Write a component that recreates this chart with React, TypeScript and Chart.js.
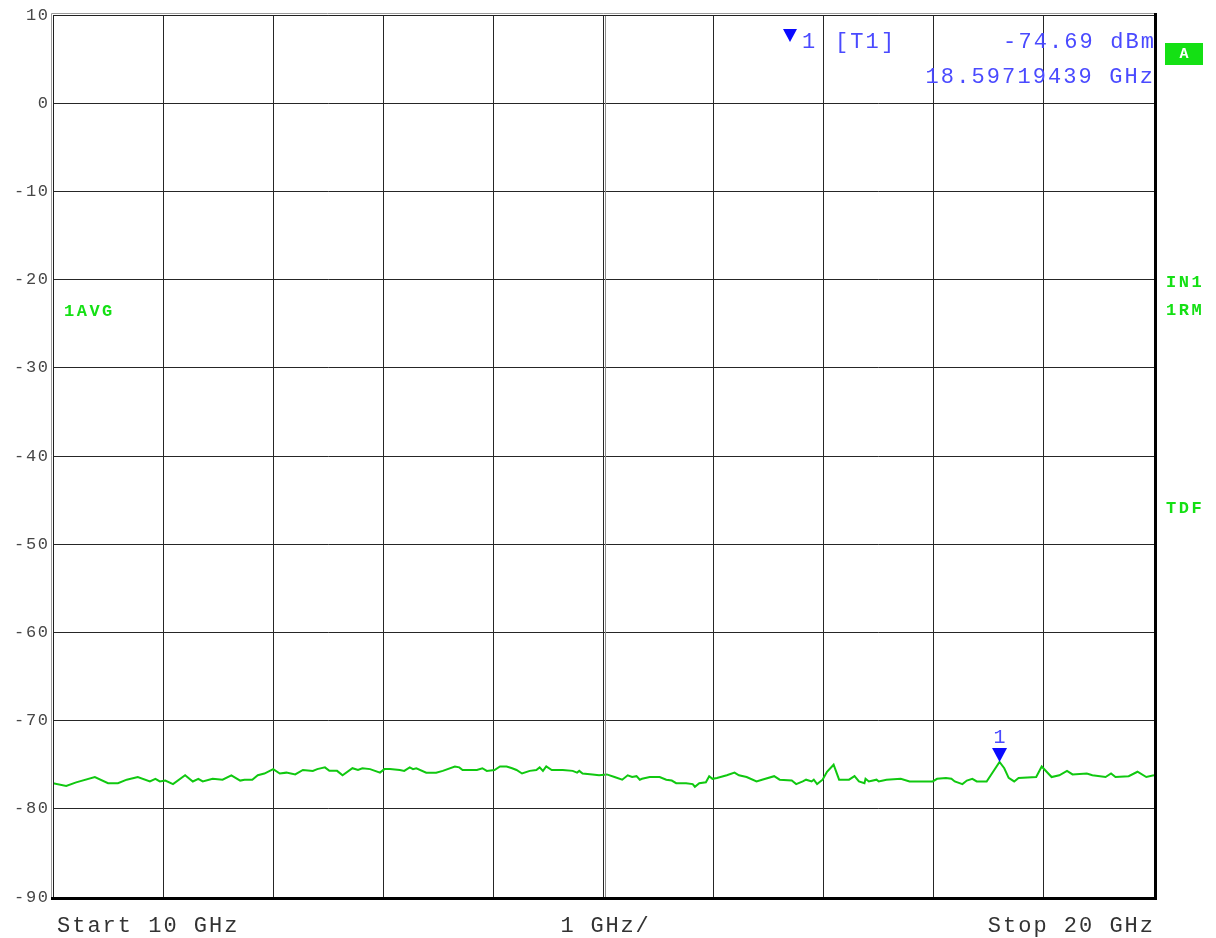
import React, { useEffect, useRef } from "react";
import { Chart, registerables } from "chart.js";

Chart.register(...registerables);

const freqGHz = [
  10.0, 10.12, 10.21, 10.38, 10.5, 10.59, 10.67, 10.77, 10.88, 10.93, 10.97, 11.02, 11.09, 11.2, 11.27, 11.32,
  11.36, 11.45, 11.54, 11.62, 11.7, 11.74, 11.81, 11.86, 11.92, 12.0, 12.06, 12.12, 12.2, 12.27, 12.36, 12.4,
  12.47, 12.51, 12.58, 12.63, 12.72, 12.77, 12.81, 12.88, 12.97, 13.01, 13.06, 13.15, 13.19, 13.24, 13.27, 13.3,
  13.39, 13.48, 13.54, 13.65, 13.69, 13.72, 13.85, 13.9, 13.94, 14.01, 14.06, 14.12, 14.17, 14.21, 14.26, 14.33,
  14.39, 14.42, 14.45, 14.48, 14.53, 14.63, 14.72, 14.76, 14.78, 14.81, 14.9, 14.96, 15.03, 15.1, 15.17, 15.22,
  15.26, 15.3, 15.33, 15.35, 15.42, 15.51, 15.57, 15.62, 15.66, 15.75, 15.81, 15.83, 15.87, 15.93, 15.96, 15.99,
  16.03, 16.12, 16.19, 16.23, 16.3, 16.39, 16.44, 16.55, 16.6, 16.71, 16.75, 16.81, 16.84, 16.89, 16.91, 16.94,
  16.99, 17.03, 17.09, 17.14, 17.23, 17.28, 17.32, 17.37, 17.38, 17.41, 17.48, 17.5, 17.57, 17.7, 17.78, 17.99,
  18.03, 18.11, 18.16, 18.19, 18.26, 18.3, 18.35, 18.39, 18.48, 18.597, 18.64, 18.68, 18.73, 18.77, 18.93, 18.98,
  19.07, 19.14, 19.21, 19.26, 19.39, 19.44, 19.56, 19.61, 19.65, 19.77, 19.85, 19.93, 20.0,
];

const levelDBm = [
  -77.1, -77.4, -77.0, -76.4, -77.1, -77.1, -76.7, -76.4, -76.9, -76.6, -76.9, -76.8, -77.2, -76.2, -76.9, -76.6,
  -76.9, -76.6, -76.7, -76.2, -76.8, -76.7, -76.7, -76.2, -76.0, -75.5, -76.0, -75.9, -76.1, -75.6, -75.7, -75.5,
  -75.3, -75.7, -75.7, -76.2, -75.4, -75.6, -75.4, -75.5, -75.9, -75.5, -75.5, -75.6, -75.7, -75.3, -75.5, -75.4,
  -75.9, -75.9, -75.7, -75.2, -75.3, -75.6, -75.6, -75.4, -75.7, -75.6, -75.2, -75.2, -75.4, -75.6, -76.0, -75.7,
  -75.6, -75.3, -75.7, -75.2, -75.6, -75.6, -75.7, -75.9, -75.7, -76.0, -76.1, -76.2, -76.1, -76.4, -76.7, -76.2,
  -76.4, -76.3, -76.7, -76.6, -76.4, -76.4, -76.7, -76.8, -77.1, -77.1, -77.2, -77.5, -77.1, -77.0, -76.3, -76.6,
  -76.5, -76.2, -75.9, -76.2, -76.4, -76.9, -76.7, -76.3, -76.7, -76.8, -77.2, -76.9, -76.7, -76.9, -76.7, -77.2,
  -76.7, -75.8, -75.0, -76.7, -76.7, -76.3, -76.9, -77.1, -76.6, -76.9, -76.7, -76.9, -76.7, -76.6, -76.9, -76.9,
  -76.6, -76.5, -76.6, -76.9, -77.2, -76.8, -76.6, -76.9, -76.9, -74.69, -75.4, -76.5, -76.9, -76.5, -76.4, -75.2,
  -76.4, -76.2, -75.7, -76.1, -76.0, -76.2, -76.4, -76.0, -76.4, -76.3, -75.8, -76.4, -76.2,
];

const yTicks = [10, 0, -10, -20, -30, -40, -50, -60, -70, -80, -90];
const startGHz = 10;
const stopGHz = 20;
const markerFreq = 18.59719439;
const markerLevel = -74.69;
const markerLabel = "1";
const markerTag = "[T1]";
const markerLevelText = "-74.69 dBm";
const markerFreqText = "18.59719439 GHz";
const startText = "Start 10 GHz";
const spanText = "1 GHz/";
const stopText = "Stop 20 GHz";
const leftTraceLabel = "1AVG";
const rightLabels = [
  { text: "IN1", y: 283 },
  { text: "1RM", y: 311 },
  { text: "TDF", y: 509 },
];

const MONO = '"Liberation Mono", "DejaVu Sans Mono", monospace';
const BLUE_TEXT = "#4a4aff";
const BLUE_MARK = "#0a0aff";
const GREEN_TEXT = "#14e014";

function spacedText(
  ctx: CanvasRenderingContext2D,
  text: string,
  x: number,
  y: number,
  align: "left" | "right" | "center",
  spacing: number
) {
  (ctx as any).letterSpacing = spacing + "px";
  const w = ctx.measureText(text).width - spacing;
  let sx = x;
  if (align === "right") sx = x - w;
  else if (align === "center") sx = x - w / 2;
  ctx.textAlign = "left";
  ctx.fillText(text, sx, y);
  (ctx as any).letterSpacing = "0px";
}

const overlayPlugin = {
  id: "analyzerOverlay",
  afterDatasetsDraw(chart: any) {
    const ctx: CanvasRenderingContext2D = chart.ctx;
    const { left, right, top, bottom } = chart.chartArea;
    const xs = chart.scales.x;
    const ys = chart.scales.y;
    ctx.save();

    // double centre line
    const cx = Math.round(xs.getPixelForValue(15)) + 1.5;
    ctx.strokeStyle = "#8a8a8a";
    ctx.lineWidth = 1;
    ctx.beginPath();
    ctx.moveTo(cx, top);
    ctx.lineTo(cx, bottom);
    ctx.stroke();

    // frame
    ctx.strokeStyle = "#9a9a9a";
    ctx.lineWidth = 1;
    ctx.beginPath();
    ctx.moveTo(left - 1.5, top - 1.5);
    ctx.lineTo(right + 1, top - 1.5);
    ctx.moveTo(left - 1.5, top - 1.5);
    ctx.lineTo(left - 1.5, bottom + 1);
    ctx.stroke();
    ctx.strokeStyle = "#202020";
    ctx.beginPath();
    ctx.moveTo(left + 0.5, top + 0.5);
    ctx.lineTo(right, top + 0.5);
    ctx.moveTo(left + 0.5, top + 0.5);
    ctx.lineTo(left + 0.5, bottom);
    ctx.stroke();
    ctx.fillStyle = "#000";
    ctx.fillRect(right, top - 2, 3, bottom - top + 5);
    ctx.fillRect(left - 2, bottom, right - left + 5, 3);

    // y labels
    ctx.fillStyle = "#474747";
    ctx.font = `17px ${MONO}`;
    ctx.textBaseline = "middle";
    yTicks.forEach((v) => {
      const py = ys.getPixelForValue(v);
      spacedText(ctx, String(v), left - 5, py, "right", 1.7);
    });

    // bottom texts
    ctx.fillStyle = "#333";
    ctx.font = `22px ${MONO}`;
    ctx.textBaseline = "alphabetic";
    spacedText(ctx, startText, xs.getPixelForValue(startGHz) + 4, 932, "left", 2.0);
    spacedText(ctx, spanText, xs.getPixelForValue((startGHz + stopGHz) / 2) + 1, 932, "center", 1.8);
    spacedText(ctx, stopText, xs.getPixelForValue(stopGHz) - 1, 932, "right", 2.0);

    // marker info at top
    const triX = 790;
    ctx.fillStyle = BLUE_MARK;
    ctx.beginPath();
    ctx.moveTo(triX - 7, 29);
    ctx.lineTo(triX + 7, 29);
    ctx.lineTo(triX, 42);
    ctx.closePath();
    ctx.fill();
    ctx.fillStyle = BLUE_TEXT;
    ctx.font = `22px ${MONO}`;
    spacedText(ctx, markerLabel, 802, 48, "left", 2.1);
    spacedText(ctx, markerTag, 835, 48, "left", 2.1);
    spacedText(ctx, markerLevelText, 1154, 48, "right", 2.1);
    spacedText(ctx, markerFreqText, 1153, 83, "right", 2.1);

    // marker on trace
    const mx = xs.getPixelForValue(markerFreq);
    const my = ys.getPixelForValue(markerLevel);
    ctx.fillStyle = BLUE_MARK;
    ctx.beginPath();
    ctx.moveTo(mx - 7.5, my - 14);
    ctx.lineTo(mx + 7.5, my - 14);
    ctx.lineTo(mx, my);
    ctx.closePath();
    ctx.fill();
    ctx.fillStyle = BLUE_TEXT;
    ctx.font = `20px ${MONO}`;
    spacedText(ctx, markerLabel, mx, my - 19, "center", 0);

    // A box
    ctx.fillStyle = GREEN_TEXT;
    ctx.fillRect(1165, 43, 38, 22);
    ctx.fillStyle = "#fff";
    ctx.font = `bold 15px ${MONO}`;
    ctx.textBaseline = "middle";
    spacedText(ctx, "A", 1184, 54, "center", 0);

    // green status labels
    ctx.fillStyle = GREEN_TEXT;
    ctx.font = `bold 17px ${MONO}`;
    spacedText(ctx, leftTraceLabel, 64, 312, "left", 2.5);
    rightLabels.forEach((l) => spacedText(ctx, l.text, 1166, l.y, "left", 2.5));

    ctx.restore();
  },
};

export default function App() {
  const canvasRef = useRef<HTMLCanvasElement | null>(null);

  useEffect(() => {
    document.body.style.margin = "0";
    const canvas = canvasRef.current;
    if (!canvas) return;
    const data = freqGHz.map((f, i) => ({ x: f, y: levelDBm[i] }));
    const chart = new Chart(canvas, {
      type: "line",
      data: {
        datasets: [
          {
            data,
            borderColor: "#10c810",
            borderWidth: 2,
            pointRadius: 0,
            tension: 0,
            fill: false,
          },
        ],
      },
      options: {
        animation: false,
        responsive: false,
        maintainAspectRatio: false,
        layout: { padding: { left: 0, top: 15, right: 62, bottom: 41 } },
        plugins: { legend: { display: false }, tooltip: { enabled: false } },
        events: [],
        scales: {
          x: {
            type: "linear",
            min: startGHz,
            max: stopGHz,
            ticks: { display: false, stepSize: 1 },
            grid: { color: "#262626", lineWidth: 1, drawTicks: false },
            border: { display: false },
            afterFit: (s: any) => {
              s.height = 0;
            },
          },
          y: {
            type: "linear",
            min: -90,
            max: 10,
            ticks: { display: false, stepSize: 10 },
            grid: { color: "#262626", lineWidth: 1, drawTicks: false },
            border: { display: false },
            afterFit: (s: any) => {
              s.width = 53;
            },
          },
        },
      },
      plugins: [overlayPlugin],
    });
    return () => chart.destroy();
  }, []);

  return (
    <div style={{ width: 1216, height: 938, background: "#fff" }}>
      <canvas ref={canvasRef} width={1216} height={938} style={{ display: "block" }} />
    </div>
  );
}
